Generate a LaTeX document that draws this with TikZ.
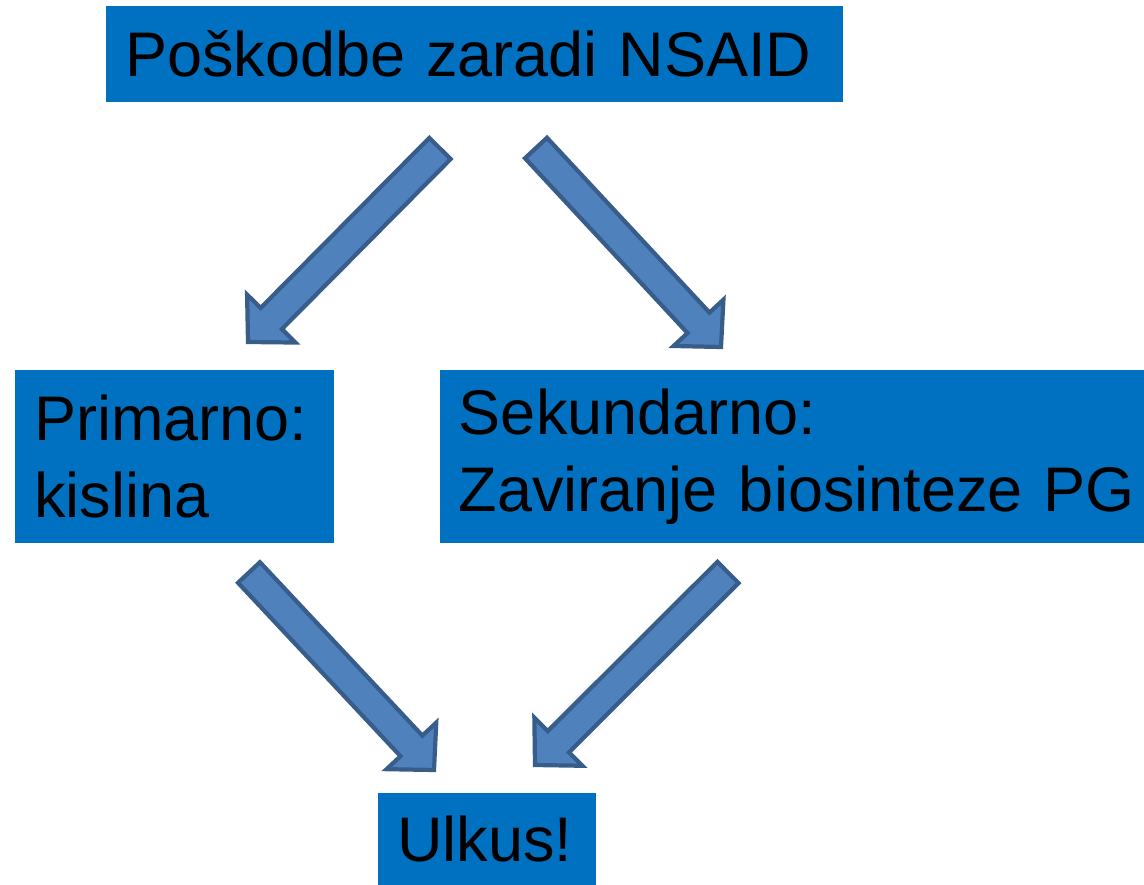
\documentclass[tikz,border=0pt]{standalone}
\usepackage{fontspec}
\setmainfont{Liberation Sans}
\usepackage{xcolor}
\usetikzlibrary{calc, positioning}
\definecolor{boxblue}{HTML}{0070C0}
\definecolor{arrowfill}{HTML}{4F81BD}
\definecolor{arrowline}{HTML}{385D8A}
\tikzstyle{fatarrow} = [fill=arrowfill, draw=arrowline, line width=3pt]
\newcommand{\blockarrow}[2]{%
  \coordinate (#2head) at ($(#2)!0.825cm!(#1)$);
  \path[fatarrow] ($(#1)!0.375cm!90:(#2)$) -- ($(#2head)!0.375cm!90:(#2)$)
    -- ($(#2head)!0.85cm!90:(#2)$) -- (#2) -- ($(#2head)!0.85cm!-90:(#2)$)
    -- ($(#2head)!0.375cm!-90:(#2)$) -- ($(#1)!0.375cm!-90:(#2)$) -- cycle;
}

\begin{document}
\begin{tikzpicture}[
    x=0.025cm, y=-0.025cm,
    every node/.style={font=\fontsize{44.8pt}{54.8pt}\selectfont, align=left},
    block/.style={rectangle, fill=boxblue, inner xsep=0.475cm, inner ysep=0pt, anchor=north west}
]
    \useasboundingbox (0,0) rectangle (1144,885);

    % Boxes
    \node[block, minimum width=18.425cm, minimum height=2.4cm, text width=17.475cm] (nsaid) at (106,6) {Poškodbe zaradi NSAID};
    \node[block, minimum width=7.975cm, minimum height=4.325cm, text width=7.025cm] (primarno) at (15,370) {Primarno:\\kislina};
    \node[block, minimum height=4.325cm, text width=17.2cm, right=2.625cm of primarno.north east, anchor=north west] (sekundarno) {Sekundarno:\\Zaviranje biosinteze PG};
    \node[block, minimum width=5.45cm, minimum height=2.3cm, text width=4.5cm] (ulkus) at (378,793) {Ulkus!};

    % Arrow ends
    \coordinate (leftstart) at (440,148.5);
    \coordinate (leftend) at (248,342);
    \coordinate (rightstart) at (536,148);
    \coordinate (rightend) at (721,347);
    \coordinate (acidstart) at (249,572.5);
    \coordinate (acidend) at (434,770);
    \coordinate (pgstart) at (728,572.5);
    \coordinate (pgend) at (535,765);

    % Connections
    \foreach \s/\e in {leftstart/leftend, rightstart/rightend, acidstart/acidend, pgstart/pgend}
        \blockarrow{\s}{\e};
\end{tikzpicture}
\end{document}
